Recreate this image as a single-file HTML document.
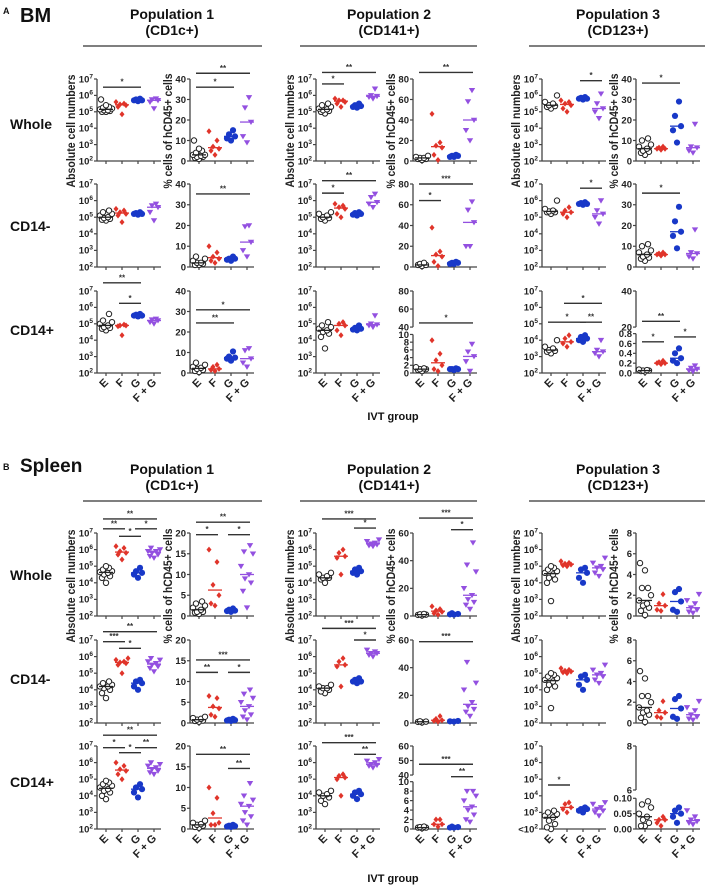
<!DOCTYPE html>
<html><head><meta charset="utf-8">
<style>
html,body{margin:0;padding:0;background:#fff;}
svg{display:block;font-family:"Liberation Sans",Arial,sans-serif;}
</style></head>
<body>
<svg id="fig" width="708" height="886" viewBox="0 0 708 886" xmlns="http://www.w3.org/2000/svg">
<g font-weight="bold" fill="#111">
<text x="3" y="14" font-size="9">A</text>
<text x="20" y="22" font-size="20">BM</text>
<text x="3" y="470" font-size="9">B</text>
<text x="20" y="472" font-size="19">Spleen</text>
</g>
<g id="plots"></g>
</svg>
<script>
const categories = ["E","F","G","F + G"];
const groupColors = ["#222","#e0342a","#1838c8","#9350e0"];

// ---- BM data (abs = log10 cell numbers, pct = % of hCD45+) ----
const bmP1WholeAbs = [[5.0,5.1,5.2,5.1,5.3,5.0,5.15,5.4,5.75,5.25,5.05],[5.4,5.5,5.6,5.3,5.45,4.85],[5.7,5.75,5.8,5.7,5.65],[5.8,5.7,5.6,5.2,5.75]];
const bmP1WholePct = [[1,2,3,4,5,6,10,2,3,1.5,2.5],[14.5,10,7,5,3,6],[15,12,11,10,13],[31,26,19,9,12]];
const bmP1NegAbs = [[4.8,4.9,5.0,5.1,4.95,5.2,5.3,5.4,4.85],[5.5,5.3,5.2,4.7,5.1,5.4],[5.3,5.2,5.15,5.25,5.2],[5.8,5.7,5.3,4.8,5.6]];
const bmP1NegPct = [[1,1.5,2,3,4,5,2,1],[10,7,5,4,3,2],[3,4,5,4,3.5],[20,19.5,12,8,5]];
const bmP1PosAbs = [[4.6,4.7,4.8,4.9,5.0,5.1,5.2,5.6,4.75],[4.9,4.85,4.95,4.3,4.9],[5.5,5.6,5.45,5.5,5.55],[5.25,5.1,5.0,5.2,5.3]];
const bmP1PosPct = [[1,2,3,4,5,1.5,0.5,2.5],[1,2,3,4,1.5],[10.5,8,7,6,7.5],[12,11,7,5,3]];
const bmP2WholeAbs = [[4.9,5.0,5.1,5.2,5.3,5.4,5.5,5.15,5.05],[5.3,5.5,5.7,5.8,5.6,5.7],[5.3,5.35,5.4,5.5,5.25],[6.4,5.9,5.8,6.0,5.95]];
const bmP2WholePct = [[1,2,3,4,5,2,3],[46,18,15,13,6,1],[4,5,5,6,4],[69,58,30,20,40]];
const bmP2NegAbs = [[4.8,4.9,5.0,5.1,5.2,5.3,4.95],[5.7,5.6,5.5,5.2,5.0,5.8],[5.2,5.1,5.15,5.3,5.25],[6.4,6.2,5.9,5.6,5.8]];
const bmP2NegPct = [[1,2,3,4,2],[38,15,12,10,5,1],[3,4,3,5,4],[63,55,43,20,20]];
const bmP2PosAbs = [[3.5,4.2,4.4,4.5,4.7,4.8,4.9,5.1,4.6],[5.1,4.9,4.6,4.3,5.0],[4.9,4.7,4.65,4.75,4.6],[5.5,5.0,4.9,4.8,4.95]];
const bmP2PosPct = [[0.5,1,1.5,1,0.8,1.2],[8.5,5,3.3,2,1,0.5],[1,1,0.8,1.2,1],[7.5,5.5,4.3,3,0.5]];
const bmP3WholeAbs = [[5.2,5.3,5.4,5.5,5.6,6.0,5.35],[5.6,5.5,5.4,5.2,5.0,5.7],[5.8,5.85,5.9,5.75,5.8],[6.1,5.5,5.2,5.0,4.6]];
const bmP3WholePct = [[3,4,5,6,8,10,11,7,4.5],[7,6,6.5,5.5,6],[29,22,15,9,17],[18,7,5,4,6.5]];
const bmP3NegAbs = [[5.2,5.3,5.4,5.5,5.3,6.0,5.35],[5.6,5.4,5.3,5.0,5.2],[5.8,5.9,5.75,5.85,5.8],[6.0,5.4,5.2,5.0,4.6]];
const bmP3NegPct = [[3,4,5,6,8,10,11,7,4.5],[7,6,6.5,5.5,6],[29,22,15,9,17],[18,7,5,4,6.5]];
const bmP3PosAbs = [[3.2,3.3,3.4,3.5,3.6,4.0,3.35],[4.1,3.9,3.8,3.6,4.3],[4.2,4.3,4.0,3.9,4.1],[4.0,3.4,3.3,3.0,3.2]];
const bmP3PosPct = [[0.03,0.05,0.06,0.04,0.07,0.05],[0.25,0.2,0.18,0.22,0.2],[0.5,0.4,0.3,0.25,0.2],[0.15,0.08,0.05,0.03,0.1]];
// ---- Spleen data ----
const spP1WholeAbs = [[4.0,4.3,4.5,4.6,4.7,4.8,4.9,5.0,4.4,4.65],[6.2,6.1,5.9,5.7,5.4,5.8],[4.3,4.5,4.7,4.6,4.9],[6.1,6.0,5.9,5.8,5.7,5.6,5.5,5.9]];
const spP1WholePct = [[0.5,1,1.5,2,2.5,3,3.5,1,0.8],[16,13,7.5,5,3,2.5],[1,1.2,1.5,1.3,1.8],[17,15.5,15,12,10,8,6,2,9]];
const spP1NegAbs = [[3.5,3.8,4.0,4.1,4.2,4.3,4.4,4.5,4.2],[5.9,5.8,5.7,5.6,5.5,5.0,5.65],[4.0,4.2,4.4,4.5,4.6],[5.9,5.8,5.7,5.6,5.5,5.4,5.3,5.1]];
const spP1NegPct = [[0.3,0.5,0.8,1,1.2,1.5,0.6],[6.5,6,4,3.5,2,1.5],[0.5,0.8,1,0.7,0.6],[8,7,6,5,4,3,2,1.5,0.8]];
const spP1PosAbs = [[3.8,4.0,4.2,4.3,4.4,4.5,4.6,4.7,4.8,4.9],[6.0,5.8,5.6,5.3,5.0,5.5],[3.9,4.2,4.4,4.5,4.7],[6.0,5.9,5.8,5.6,5.5,5.4,5.3,5.7]];
const spP1PosPct = [[0.3,0.5,1,1.5,2,0.8,1.2],[10,7.5,3.8,1.5,1,1],[0.5,0.8,1,0.6,0.7],[11,8,7,6,5.5,4,3,2,1]];
const spP2WholeAbs = [[4.0,4.2,4.3,4.4,4.5,4.6,4.3],[6.0,5.8,5.6,4.5,5.5],[4.6,4.7,4.8,4.9,4.5],[6.6,6.5,6.4,6.3,6.2,6.25,6.35]];
const spP2WholePct = [[0.5,1,1.5,0.8,1.2],[7,5,3,2,1,4],[1,1.5,2,1.2],[53,37,32,20,15,12,10,8,5]];
const spP2NegAbs = [[3.8,3.9,4.0,4.1,4.2,4.3,4.1],[5.9,5.7,5.5,5.4,4.2],[4.4,4.5,4.6,4.7,4.5],[6.4,6.3,6.2,6.1,6.0,6.2]];
const spP2NegPct = [[0.5,1,0.8,1.2],[5,3,2,1,1.5],[1,1.2,1.5],[44,29,24,15,12,10,8,5]];
const spP2PosAbs = [[3.5,3.7,3.9,4.0,4.1,4.2,4.3],[5.3,5.2,5.1,4.0,5.0],[3.8,4.0,4.1,4.2,4.3],[6.2,6.1,6.0,5.9,5.8,5.7,5.85]];
const spP2PosPct = [[0.2,0.3,0.5,0.4,0.3],[2,2,1,0.5,1],[0.3,0.5,0.4,0.3],[8,8,7,6,4.7,4,3,2,1.5]];
const spP3WholeAbs = [[2.9,4.0,4.2,4.5,4.7,4.8,4.9,5.0,4.6,4.3],[5.3,5.2,5.1,5.0,5.15,5.05],[4.0,4.3,4.6,4.8,4.9],[5.5,5.2,5.0,4.8,4.6,4.9,4.4]];
const spP3WholePct = [[5.1,4.4,2.7,2.7,2,1.5,1,0.8,0.5,0.1,1.2],[2.1,1.2,1,0.6,0.5],[2.6,2.3,1.4,0.6,0.4],[2.1,1.5,1.2,0.8,0.6,0.4,0.3]];
const spP3NegAbs = [[2.9,4.0,4.2,4.5,4.7,4.8,4.9,5.0,4.6,4.3],[5.3,5.2,5.1,5.0,5.15,5.05],[4.0,4.3,4.6,4.8,4.9],[5.5,5.2,5.0,4.8,4.6,4.9,4.4]];
const spP3NegPct = [[5.0,4.3,2.6,2.6,2,1.5,1,0.8,0.5,0.1,1.2],[2.1,1.2,1,0.6,0.5],[2.6,2.3,1.4,0.6,0.4],[2.1,1.5,1.2,0.8,0.6,0.4,0.3]];
const spP3PosAbs = [[2.0,2.3,2.5,2.7,2.9,3.0,3.1,2.1,2.8],[3.6,3.5,3.3,3.2,3.0],[3.3,3.2,3.1,3.0,3.2],[3.6,3.5,3.3,3.2,3.1,3.0,2.8]];
const spP3PosPct = [[0.09,0.07,0.05,0.04,0.03,0.02,0.01,0.01,0.08],[0.04,0.03,0.02,0.01,0.03],[0.07,0.06,0.04,0.02,0.05],[0.06,0.04,0.03,0.02,0.015,0.025]];

// tick label arrays
const logTicks = [2,3,4,5,6,7];
const ticksP1BM = [0,10,20,30,40];
const ticksP2BM = [0,20,40,60,80];
const ticksP3BM = [0,10,20,30,40];
const ticksP1SP = [0,5,10,15,20];
const ticksP2SP = [0,20,40,60];
const ticksP3SP = [0,2,4,6,8];
const brokenLoBMP2 = [0,2,4,6,8,10], brokenHiBMP2 = [40,60,80];
const brokenLoBMP3 = [0,0.2,0.4,0.6,0.8], brokenHiBMP3 = [20,40];
const brokenLoSPP2 = [0,2,4,6,8,10], brokenHiSPP2 = [40,50,60];
const brokenLoSPP3 = [0,0.05,0.10], brokenHiSPP3 = [6,8];

// significance: [groupFrom, groupTo, label, heightFraction]
const sigBmP1WholeAbs=[[0,2,"*",0.90]], sigBmP1WholePct=[[0,2,"*",0.90],[0,3,"**",1.07]];
const sigBmP1NegPct=[[0,3,"**",0.88]];
const sigBmP1PosAbs=[[0,2,"**",1.10],[1,2,"*",0.85]], sigBmP1PosPct=[[0,2,"**",0.61],[0,3,"*",0.77]];
const sigBmP2WholeAbs=[[0,1,"*",0.94],[0,3,"**",1.08]], sigBmP2WholePct=[[0,3,"**",1.08]];
const sigBmP2NegAbs=[[0,1,"*",0.89],[0,3,"**",1.04]], sigBmP2NegPct=[[0,1,"*",0.80],[0,3,"***",1.0]];
const sigBmP2PosPct=[[0,3,"*",0.61]];
const sigBmP3WholeAbs=[[2,3,"*",0.98]], sigBmP3WholePct=[[0,2,"*",0.95]];
const sigBmP3NegAbs=[[2,3,"*",0.95]], sigBmP3NegPct=[[0,2,"*",0.89]];
const sigBmP3PosAbs=[[0,2,"*",0.62],[2,3,"**",0.62],[1,3,"*",0.85]], sigBmP3PosPct=[[0,2,"**",0.63],[0,1,"*",0.38],[2,3,"*",0.44]];
const sigSpP1WholeAbs=[[0,1,"**",1.05],[1,2,"*",0.96],[2,3,"*",1.05],[0,3,"**",1.17]], sigSpP1WholePct=[[0,1,"*",0.98],[2,3,"*",0.98],[0,3,"**",1.13]];
const sigSpP1NegAbs=[[0,1,"***",0.98],[1,2,"*",0.90],[0,3,"**",1.10]], sigSpP1NegPct=[[0,1,"**",0.61],[2,3,"*",0.61],[0,3,"***",0.76]];
const sigSpP1PosAbs=[[0,1,"*",0.98],[1,2,"*",0.92],[2,3,"**",0.98],[0,3,"**",1.13]], sigSpP1PosPct=[[2,3,"**",0.73],[0,3,"**",0.90]];
const sigSpP2WholeAbs=[[0,3,"***",1.17],[2,3,"*",1.06]], sigSpP2WholePct=[[0,3,"***",1.18],[2,3,"*",1.04]];
const sigSpP2NegAbs=[[0,3,"***",1.14],[2,3,"*",1.0]], sigSpP2NegPct=[[0,3,"***",0.98]];
const sigSpP2PosAbs=[[0,3,"***",1.04],[2,3,"**",0.9]], sigSpP2PosPct=[[0,3,"***",0.78],[2,3,"**",0.63]];
const sigSpP3PosAbs=[[0,1,"*",0.53]];

const NS="http://www.w3.org/2000/svg";
const root=document.getElementById("plots");
function mk(tag,attrs,parent){const e=document.createElementNS(NS,tag);for(const k in attrs)e.setAttribute(k,attrs[k]);(parent||root).appendChild(e);return e;}

const colX=[{abs:97,pct:190},{abs:316,pct:413},{abs:542,pct:636}];
const rowsBM=[[79,161],[184,267],[291,373]];
const rowsSP=[[533,616],[640,723],[746,829]];
const AXLEN=64;

function makeScale(axis,top,bot){
  const H=bot-top;
  if(axis.type==="log") return v=>bot-(v-2)/5*H;
  if(axis.type==="lin"){const mx=axis.ticks[axis.ticks.length-1];return v=>bot-v/mx*H;}
  const lo=axis.lo,hi=axis.hi,lmax=lo[lo.length-1];
  return v=>{
    if(v<=lmax) return bot-(v/lmax)*axis.loF*H;
    const y0=bot-axis.hiF0*H; return y0-(v-hi[0])/(hi[hi.length-1]-hi[0])*(y0-top);
  };
}

function drawPanel(name,ax,top,bot,axis,data,sig){
  const g=mk("g",{});
  
  
  const ys=makeScale(axis,top,bot);
  const stroke="#444";
  if(axis.type==="broken"){
    const H=bot-top;
    const l1=mk("line",{x1:ax,y1:bot,x2:ax,y2:bot-axis.loF*H,stroke:stroke,"stroke-width":1.3},g);
    
    
    const l2=mk("line",{x1:ax,y1:bot-axis.hiF0*H,x2:ax,y2:top,stroke:stroke,"stroke-width":1.3},g);
    
    
  } else {
    const l=mk("line",{x1:ax,y1:bot,x2:ax,y2:top,stroke:stroke,"stroke-width":1.3},g);
    
    
  }
  let ticks=[];
  if(axis.type==="log") ticks=logTicks.map(t=>[t,false]);
  else if(axis.type==="lin") ticks=axis.ticks.map(t=>[t,false]);
  else ticks=axis.lo.map(t=>[t,true]).concat(axis.hi.map(t=>[t,false]));
  ticks.forEach(([t,isLo])=>{
    const y=ys(t);
    mk("line",{x1:ax-3,y1:y,x2:ax,y2:y,stroke:stroke,"stroke-width":1.2},g);
    const tx=mk("text",{x:ax-4,y:y+3.3,"font-size":9.5,"font-weight":"bold","text-anchor":"end",fill:"#222"},g);
    
    
    if(axis.type==="log"){
      const pre=(axis.lessThan&&t===2)?"<10":"10";
      tx.appendChild(document.createTextNode(pre));
      const s=mk("tspan",{dy:-4,"font-size":6.5},tx); s.textContent=String(t);
      tx.setAttribute("x",ax-4);
    } else tx.textContent=(isLo&&axis.dec)?t.toFixed(axis.dec):String(t);
  });
  const xl=mk("line",{x1:ax,y1:bot,x2:ax+AXLEN,y2:bot,stroke:stroke,"stroke-width":1.3},g);
  
  
  const xs=i=>ax+9+i*16;
  categories.forEach((c,i)=>{
    mk("line",{x1:xs(i),y1:bot,x2:xs(i),y2:bot+3,stroke:stroke,"stroke-width":1.2},g);
  });
  data.forEach((vals,gi)=>{
    const col=groupColors[gi];
    const order=vals.map((v,i)=>[v,i]).sort((a,b)=>a[0]-b[0]);
    const offs=[0,-4,4,-2,2,-6,6,-3,3,0,-5,5];
    order.forEach(([v],k)=>{
      const x=xs(gi)+offs[k%offs.length], y=ys(v);
      let m;
      if(gi===0) m=mk("circle",{cx:x,cy:y,r:2.7,fill:"#fff",stroke:"#222","stroke-width":1},g);
      else if(gi===1) m=mk("path",{d:`M${x},${y-3}L${x+2.5},${y}L${x},${y+3}L${x-2.5},${y}Z`,fill:col},g);
      else if(gi===2) m=mk("circle",{cx:x,cy:y,r:3.1,fill:col},g);
      else m=mk("path",{d:`M${x-3.2},${y-2.3}L${x+3.2},${y-2.3}L${x},${y+3}Z`,fill:col},g);
      
      
    });
    const s=vals.slice().sort((a,b)=>a-b), n=s.length;
    const med=n%2?s[(n-1)/2]:(s[n/2-1]+s[n/2])/2;
    const ml=mk("line",{x1:xs(gi)-7,y1:ys(med),x2:xs(gi)+7,y2:ys(med),stroke:col,"stroke-width":1.3},g);
    
    
  });
  (sig||[]).forEach(([a,b,lab,f])=>{
    const y=bot-f*(bot-top);
    const bl=mk("line",{x1:xs(a)-3,y1:y,x2:xs(b)+3,y2:y,stroke:"#333","stroke-width":1.4},g);
    
    
    const st=mk("text",{x:(xs(a)+xs(b))/2,y:y-2.5,"font-size":8,"font-weight":"bold","text-anchor":"middle",fill:"#333"},g);
    
    
    st.textContent=lab;
  });
  return {g,xs};
}
function xLabels(ax,bot){
  const xs=i=>ax+9+i*16;
  categories.forEach((c,i)=>{
    const x=xs(i)+3,y=bot+10;
    const t=mk("text",{x:x,y:y,"font-size":11,"font-weight":"bold","text-anchor":"end",fill:"#222",transform:`rotate(-45 ${x} ${y})`});
    
    
    t.textContent=c;
  });
}
function yTitle(text,x,cy,len,name){
  const t=mk("text",{x:x,y:cy,"font-size":11.5,"font-weight":"bold","text-anchor":"middle",fill:"#222",transform:`rotate(-90 ${x} ${cy})`,textLength:len,lengthAdjust:"spacingAndGlyphs"});
  
  
  t.textContent=text;
}
function text(str,x,y,size,anchor,name){
  const t=mk("text",{x:x,y:y,"font-size":size,"font-weight":"bold","text-anchor":anchor||"start",fill:"#111"});
  
  
  t.textContent=str;
}

const LOG={type:"log"};
const bmPanels=[
 [[bmP1WholeAbs,LOG,sigBmP1WholeAbs],[bmP1WholePct,{type:"lin",ticks:ticksP1BM},sigBmP1WholePct],[bmP2WholeAbs,LOG,sigBmP2WholeAbs],[bmP2WholePct,{type:"lin",ticks:ticksP2BM},sigBmP2WholePct],[bmP3WholeAbs,LOG,sigBmP3WholeAbs],[bmP3WholePct,{type:"lin",ticks:ticksP3BM},sigBmP3WholePct]],
 [[bmP1NegAbs,LOG,[]],[bmP1NegPct,{type:"lin",ticks:ticksP1BM},sigBmP1NegPct],[bmP2NegAbs,LOG,sigBmP2NegAbs],[bmP2NegPct,{type:"lin",ticks:ticksP2BM},sigBmP2NegPct],[bmP3NegAbs,LOG,sigBmP3NegAbs],[bmP3NegPct,{type:"lin",ticks:ticksP3BM},sigBmP3NegPct]],
 [[bmP1PosAbs,LOG,sigBmP1PosAbs],[bmP1PosPct,{type:"lin",ticks:ticksP1BM},sigBmP1PosPct],[bmP2PosAbs,LOG,[]],[bmP2PosPct,{type:"broken",lo:brokenLoBMP2,hi:brokenHiBMP2,loF:0.47,hiF0:0.56},sigBmP2PosPct],[bmP3PosAbs,LOG,sigBmP3PosAbs],[bmP3PosPct,{type:"broken",lo:brokenLoBMP3,hi:brokenHiBMP3,loF:0.48,hiF0:0.56,dec:1},sigBmP3PosPct]]
];
const spPanels=[
 [[spP1WholeAbs,LOG,sigSpP1WholeAbs],[spP1WholePct,{type:"lin",ticks:ticksP1SP},sigSpP1WholePct],[spP2WholeAbs,LOG,sigSpP2WholeAbs],[spP2WholePct,{type:"lin",ticks:ticksP2SP},sigSpP2WholePct],[spP3WholeAbs,LOG,[]],[spP3WholePct,{type:"lin",ticks:ticksP3SP},[]]],
 [[spP1NegAbs,LOG,sigSpP1NegAbs],[spP1NegPct,{type:"lin",ticks:ticksP1SP},sigSpP1NegPct],[spP2NegAbs,LOG,sigSpP2NegAbs],[spP2NegPct,{type:"lin",ticks:ticksP2SP},sigSpP2NegPct],[spP3NegAbs,LOG,[]],[spP3NegPct,{type:"lin",ticks:ticksP3SP},[]]],
 [[spP1PosAbs,LOG,sigSpP1PosAbs],[spP1PosPct,{type:"lin",ticks:ticksP1SP},sigSpP1PosPct],[spP2PosAbs,LOG,sigSpP2PosAbs],[spP2PosPct,{type:"broken",lo:brokenLoSPP2,hi:brokenHiSPP2,loF:0.57,hiF0:0.65},sigSpP2PosPct],[spP3PosAbs,{type:"log",lessThan:true},sigSpP3PosAbs],[spP3PosPct,{type:"broken",lo:brokenLoSPP3,hi:brokenHiSPP3,loF:0.37,hiF0:0.47,dec:2},[]]]
];
const rowNames=["Whole","CD14-","CD14+"];
const popNames=[["Population 1","(CD1c+)"],["Population 2","(CD141+)"],["Population 3","(CD123+)"]];
const popCenters=[172,389,618], popLines=[[83,262],[300,477],[529,705]];

function section(prefix,panels,rows,hdrY,lineY,ivtY,rowLabelY){
  popNames.forEach((p,i)=>{
    text(p[0],popCenters[i],hdrY,14,"middle",prefix+"-pop"+(i+1)+"-title");
    text(p[1],popCenters[i],hdrY+16,14,"middle",prefix+"-pop"+(i+1)+"-subtitle");
    const l=mk("line",{x1:popLines[i][0],y1:lineY,x2:popLines[i][1],y2:lineY,stroke:"#333","stroke-width":1.3});
    
    
  });
  rowNames.forEach((r,ri)=>text(r,10,rowLabelY[ri],14,"start",prefix+"-row-label-"+r.toLowerCase()));
  panels.forEach((row,ri)=>{
    const [top,bot]=rows[ri];
    row.forEach((p,ci)=>{
      const c=colX[Math.floor(ci/2)], ax=ci%2===0?c.abs:c.pct;
      drawPanel(prefix+"-pop"+(Math.floor(ci/2)+1)+"-"+(ci%2===0?"abs":"pct")+"-"+rowNames[ri].toLowerCase(),ax,top,bot,p[1],p[0],p[2]);
      if(ri===2) xLabels(ax,bot);
    });
  });
  const cy=rows[0][1]-30;
  colX.forEach((c,i)=>{
    yTitle("Absolute cell numbers",c.abs-22,cy,113,prefix+"-abs-y-title-"+(i+1));
    yTitle("% cells of hCD45+ cells",c.pct-18,cy,115,prefix+"-pct-y-title-"+(i+1));
  });
  text("IVT group",393,ivtY,11,"middle",prefix+"-x-axis-title");
}
section("bm",bmPanels,rowsBM,19,46,420,[129,231,335]);
section("spleen",spPanels,rowsSP,474,501,882,[580,684,787]);
</script>
</body></html>
